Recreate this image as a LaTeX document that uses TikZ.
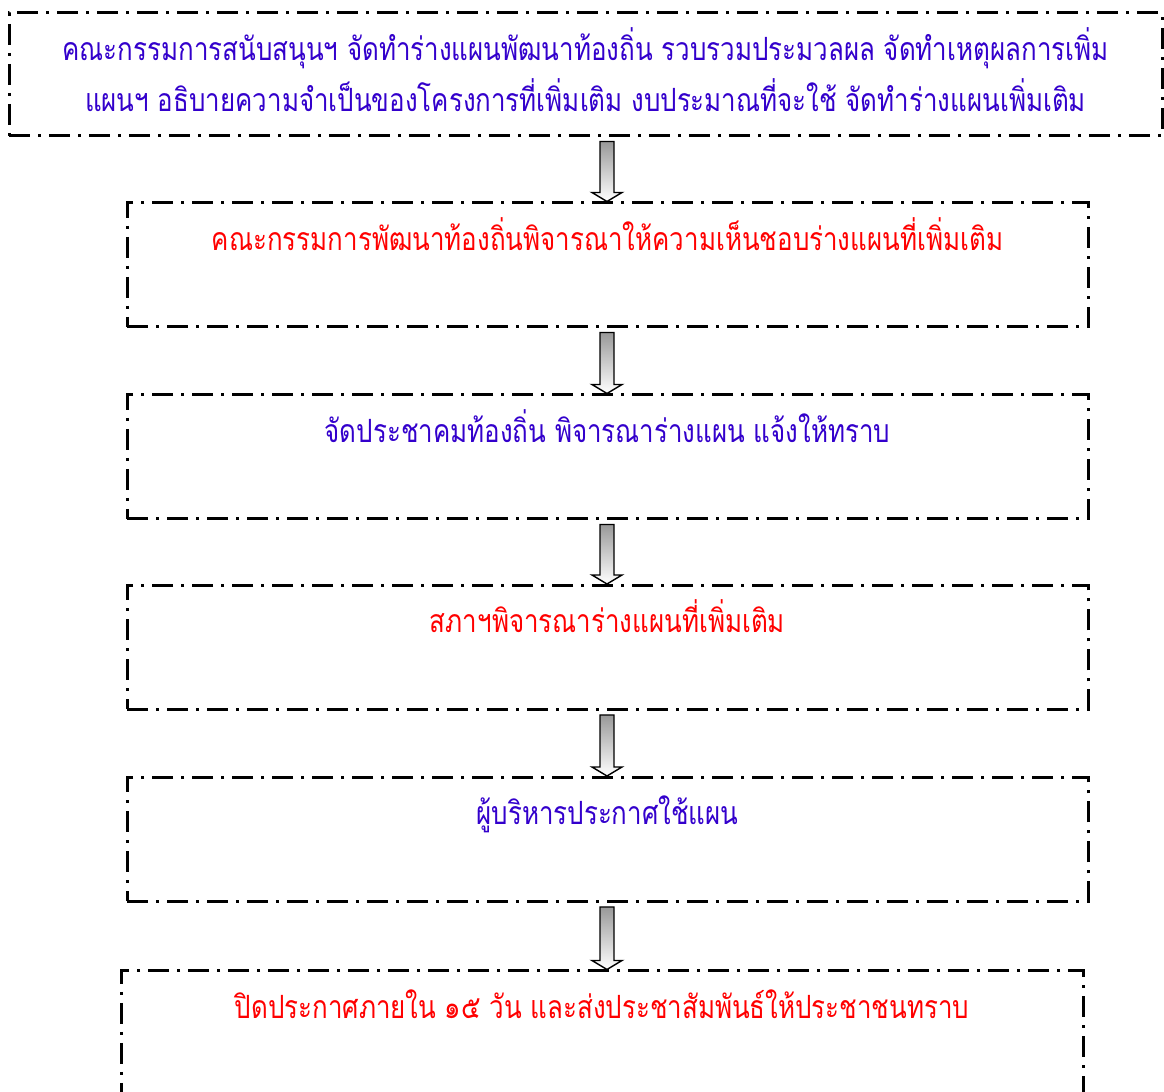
\documentclass[tikz,border=0pt]{standalone}
\usepackage{fontspec}
\newfontfamily\thaifont[Script=Thai, FakeStretch=0.81]{Loma}
\usetikzlibrary{calc, positioning}

\definecolor{textblue}{RGB}{51,0,204}
\definecolor{textred}{RGB}{255,0,0}

\tikzset{
  frame/.style={draw, line width=1.5pt, dash pattern=on 10.5pt off 4pt on 1.5pt off 4pt,
    inner sep=0pt, minimum width=480.5pt, minimum height=62pt},
  steptext/.style={font=\thaifont\fontsize{16}{25.5}\selectfont, inner sep=0pt, anchor=base},
  arrowbody/.style={draw, line width=0.7pt, top color=black!40, bottom color=white, line join=miter}
}

% hollow shaded arrow from box #1 down to box #2
\newcommand{\flowarrow}[2]{%
  \draw[arrowbody] ($(ax |- #1.south)+(-7,-4)$) -- ($(ax |- #1.south)+(7,-4)$)
    -- ($(ax |- #2.north)+(7,9)$) -- ($(ax |- #2.north)+(15,9)$) -- (ax |- #2.north)
    -- ($(ax |- #2.north)+(-15,9)$) -- ($(ax |- #2.north)+(-7,9)$) -- cycle;}

\begin{document}
\begin{tikzpicture}[x=0.5pt, y=0.5pt]
  \useasboundingbox (0,0) rectangle (1164,1092);
  \coordinate (ax) at (607,0);

  % Boxes
  \node[frame, minimum width=576.5pt, minimum height=61.5pt] (b1) at (585.5,1017.5) {};
  \node[frame] (b2) at (607.5,827) {};
  \node[frame] (b3) at (607.5,635) {};
  \node[frame] (b4) at (607.5,444.5) {};
  \node[frame] (b5) at (607.5,252.5) {};
  \node[frame, minimum width=481pt] (b6) at (602,59) {};

  % Texts
  \node[steptext, textblue, align=center] (t1) at ($(b1.north)+(0,-100)$)
    {คณะกรรมการสนับสนุนฯ จัดทำร่างแผนพัฒนาท้องถิ่น รวบรวมประมวลผล จัดทำเหตุผลการเพิ่ม\\
     แผนฯ อธิบายความจำเป็นของโครงการที่เพิ่มเติม งบประมาณที่จะใช้ จัดทำร่างแผนเพิ่มเติม};
  \node[steptext, textred] (t2) at ($(b2.north)+(0,-49)$) {คณะกรรมการพัฒนาท้องถิ่นพิจารณาให้ความเห็นชอบร่างแผนที่เพิ่มเติม};
  \node[steptext, textblue] (t3) at ($(b3.north)+(0,-49)$) {จัดประชาคมท้องถิ่น พิจารณาร่างแผน แจ้งให้ทราบ};
  \node[steptext, textred] (t4) at ($(b4.north)+(0,-49)$) {สภาฯพิจารณาร่างแผนที่เพิ่มเติม};
  \node[steptext, textblue] (t5) at ($(b5.north)+(0,-49)$) {ผู้บริหารประกาศใช้แผน};
  \node[steptext, textred] (t6) at ($(b6.north)+(0,-49)$) {ปิดประกาศภายใน ๑๕ วัน และส่งประชาสัมพันธ์ให้ประชาชนทราบ};

  % Arrows
  \flowarrow{b1}{b2}
  \flowarrow{b2}{b3}
  \flowarrow{b3}{b4}
  \flowarrow{b4}{b5}
  \flowarrow{b5}{b6}
\end{tikzpicture}
\end{document}
